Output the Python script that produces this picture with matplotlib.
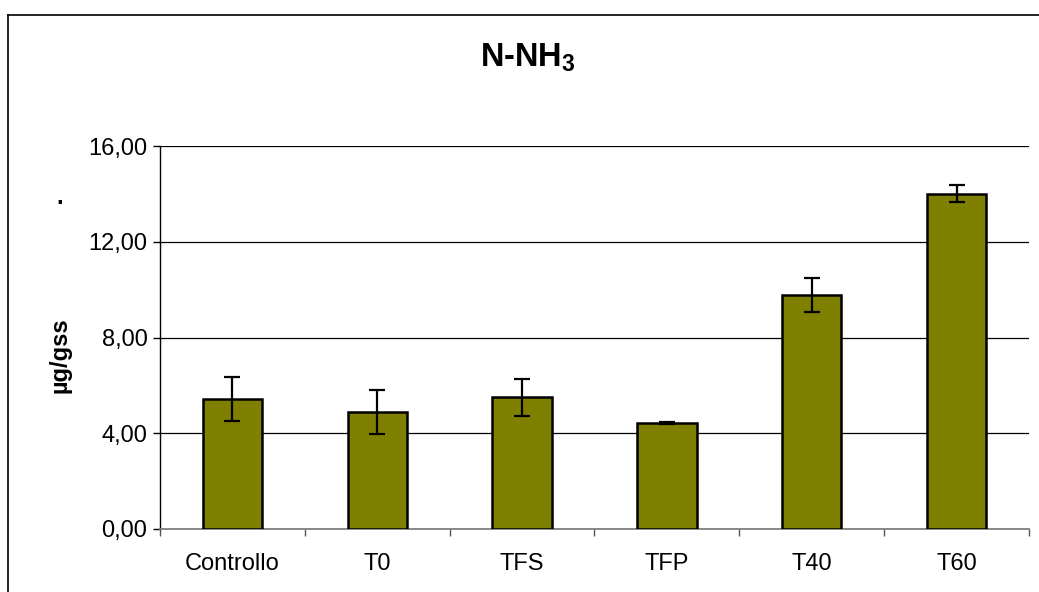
import matplotlib
matplotlib.use('Agg')
import matplotlib.pyplot as plt
from matplotlib.lines import Line2D
import numpy as np

CATEGORIES = ['Controllo', 'T0', 'TFS', 'TFP', 'T40', 'T60']
MEANS = [5.45, 4.90, 5.50, 4.43, 9.77, 14.00]
ERRORS = [0.92, 0.92, 0.77, 0.05, 0.72, 0.36]
YTICKS = [0, 4, 8, 12, 16]

plt.rcParams['font.family'] = ['Liberation Sans', 'DejaVu Sans']
plt.rcParams['mathtext.fontset'] = 'custom'
plt.rcParams['mathtext.rm'] = 'Liberation Sans'
plt.rcParams['mathtext.bf'] = 'Liberation Sans:bold'

W, H = 1039, 592
fig = plt.figure(figsize=(W / 100, H / 100), dpi=100)
ax = fig.add_axes([160 / W, 1 - 529 / H, (1029 - 160) / W, (529 - 146) / H])

x = np.arange(len(CATEGORIES))
ax.bar(x, MEANS, width=0.41, color='#808000', edgecolor='black', linewidth=1.8, zorder=3)
ax.errorbar(x, MEANS, yerr=ERRORS, fmt='none', ecolor='black', elinewidth=1.6,
            capsize=5.5, capthick=1.6, zorder=4)

ax.set_xlim(-0.5, len(CATEGORIES) - 0.5)
ax.set_ylim(0, 16)
ax.set_yticks(YTICKS)
ax.set_yticklabels(['%d,00' % v for v in YTICKS])
ax.yaxis.grid(True, color='black', linewidth=0.9, zorder=0)
ax.set_axisbelow(True)

ax.set_xticks(x)
ax.set_xticklabels(CATEGORIES)
ax.set_xticks(np.arange(-0.5, len(CATEGORIES)), minor=True)
ax.tick_params(axis='x', which='major', length=0, pad=17, labelsize=17)
ax.tick_params(axis='x', which='minor', length=5, width=1, color='#555555')
ax.tick_params(axis='y', length=5, width=1, pad=4, labelsize=17)

for s in ['top', 'right']:
    ax.spines[s].set_visible(False)
ax.spines['left'].set_color('black')
ax.spines['left'].set_linewidth(1)
ax.spines['bottom'].set_color('#808080')
ax.spines['bottom'].set_linewidth(1.3)

fig.text(528 / W, 1 - 66 / H, 'N-NH$_\\mathbf{3}$', ha='center', va='baseline',
         fontsize=23.5, fontweight='bold')
fig.text(60 / W, 1 - 355 / H, 'µg/gss', rotation=90, ha='center', va='center',
         fontsize=17, fontweight='bold')
fig.text(60 / W, 1 - 197 / H, '.', ha='center', va='center', fontsize=17, fontweight='bold')

# outer chart frame (left and top edges visible)
fig.add_artist(Line2D([8 / W, 8 / W], [0, 1 - 15 / H], transform=fig.transFigure,
                      color='black', linewidth=1.2))
fig.add_artist(Line2D([8 / W, 1], [1 - 15 / H, 1 - 15 / H], transform=fig.transFigure,
                      color='black', linewidth=1.2))

fig.savefig('out.png', dpi=100)
